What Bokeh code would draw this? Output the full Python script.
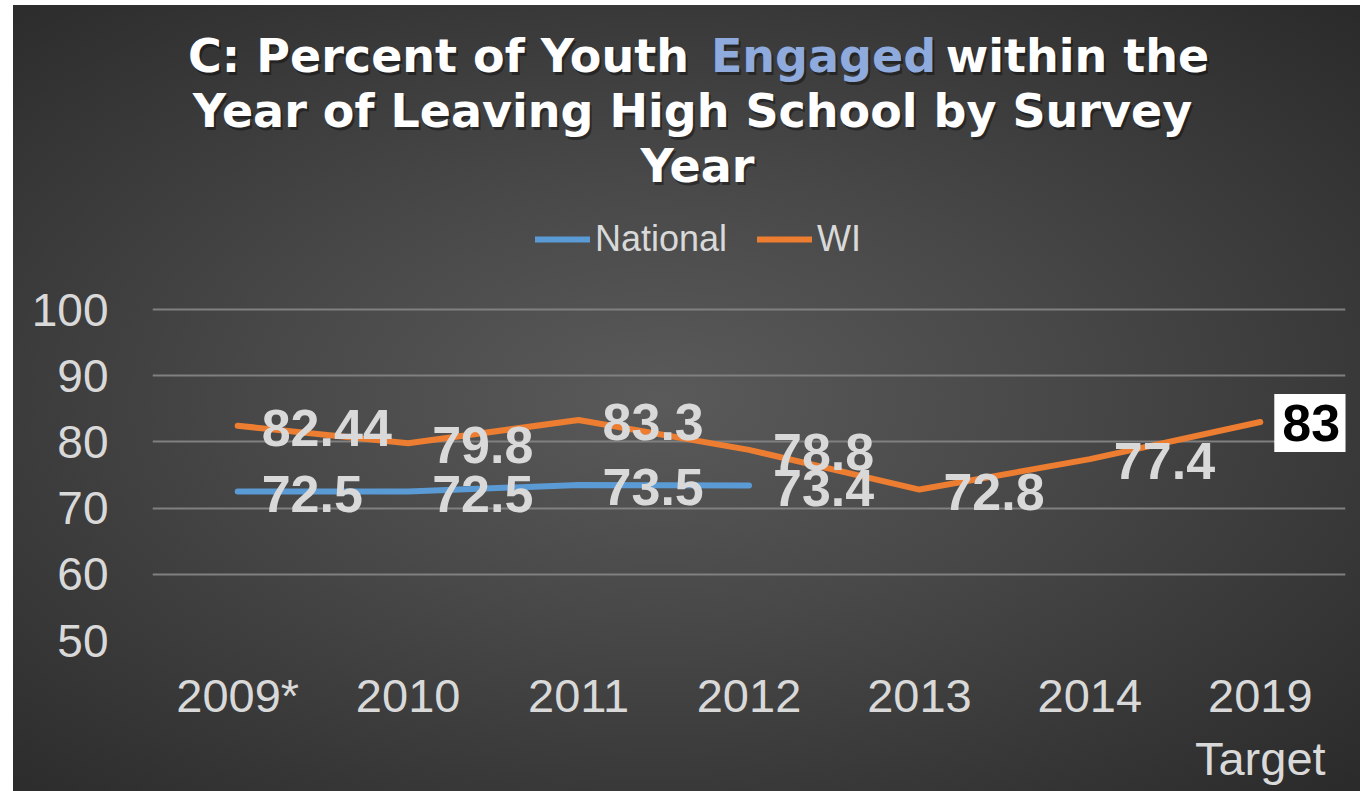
from bokeh.plotting import figure
from bokeh.models import (ColumnDataSource, LabelSet, Label, Legend, LegendItem,
                          FactorRange, Range1d, FixedTicker)
from bokeh.core.properties import value
from bokeh.embed import file_html
from bokeh.resources import INLINE

# ---- data ----
categories = ["2009*", "2010", "2011", "2012", "2013", "2014", "2019\nTarget"]
national_years = ["2009*", "2010", "2011", "2012"]
national_values = [72.5, 72.5, 73.5, 73.4]
wi_years = categories
wi_values = [82.44, 79.8, 83.3, 78.8, 72.8, 77.4, 83]
y_ticks = [50, 60, 70, 80, 90, 100]
series_names = ["National", "WI"]
title_lines = ["C:  Percent of Youth ", "Engaged", " within the",
               "Year of Leaving High School by Survey", "Year"]

BLUE = "#5b9bd5"
ORANGE = "#ed7d31"
LIGHT = "#d9d9d9"
FONT = "Liberation Sans"
TFONT = "DejaVu Sans"

# frame: x 152..1345, y from canvas top (5) to 640 (value 50); 6.62 px per unit
Y_TOP = 50 + (640 - 5) / 6.62

p = figure(width=1347, height=786, title=None,
           x_range=FactorRange(*categories), y_range=Range1d(50, Y_TOP),
           output_backend="svg", toolbar_location=None,
           min_border_left=139, min_border_right=15,
           min_border_top=0, min_border_bottom=151,
           margin=(5, 0, 0, 13),
           styles={"background": "radial-gradient(ellipse farthest-corner at 48% 50%, #5a5a5a 0%, #484848 40%, #2a2a2a 100%)"})
p.background_fill_alpha = 0
p.border_fill_alpha = 0
p.outline_line_color = None

# axes
p.xaxis.axis_line_color = None
p.yaxis.axis_line_color = None
p.xaxis.major_tick_line_color = None
p.yaxis.major_tick_line_color = None
p.xaxis.minor_tick_line_color = None
p.yaxis.minor_tick_line_color = None
p.xaxis.major_tick_out = 0
p.yaxis.major_tick_out = 0
p.yaxis.ticker = FixedTicker(ticks=y_ticks)
for ax in (p.xaxis, p.yaxis):
    ax.major_label_text_font = FONT
    ax.major_label_text_font_size = "46px"
    ax.major_label_text_color = LIGHT
p.xaxis.major_label_text_font_size = "47px"
p.xaxis.major_label_standoff = 28
p.yaxis.major_label_standoff = 44
p.xgrid.grid_line_color = None
p.ygrid.grid_line_color = "#808080"
p.ygrid.grid_line_width = 2

# lines
nat_src = ColumnDataSource(dict(x=national_years, y=national_values,
                                t=[str(v) for v in national_values]))
wi_src = ColumnDataSource(dict(x=wi_years[:-1], y=wi_values[:-1],
                               t=[str(v) for v in wi_values[:-1]]))
wi_all = ColumnDataSource(dict(x=wi_years, y=wi_values))

r_nat = p.line("x", "y", source=nat_src, line_color=BLUE, line_width=6,
               line_cap="round", line_join="round")
r_wi = p.line("x", "y", source=wi_all, line_color=ORANGE, line_width=6,
              line_cap="round", line_join="round")

# data labels
for src in (wi_src, nat_src):
    ls = LabelSet(x="x", y="y", text="t", source=src, x_offset=24, y_offset=-2,
                  text_align="left", text_baseline="middle",
                  text_font=value(FONT), text_font_style="bold",
                  text_font_size="52px", text_color=LIGHT)
    p.add_layout(ls)

# highlighted target label (synthetic categorical coordinate of the last factor)
p.add_layout(Label(x=categories.index(wi_years[-1]) + 0.5, y=wi_values[-1],
                   text=str(wi_values[-1]),
                   x_offset=14, y_offset=-1, text_align="left", text_baseline="middle",
                   text_font=FONT, text_font_style="bold", text_font_size="52px",
                   text_color="black", background_fill_color="white",
                   padding=dict(left=8, right=8, top=11, bottom=11)))

# title (positions in synthetic data coords)
def px2x(px):
    return (px - 152) / (1193 / 7)

def py2y(py):
    return 50 + (640 - py) / 6.62

title_specs = [
    (title_lines[0], 446, 55, "white"),
    (title_lines[1], 823, 55, "#8faadc"),
    (title_lines[2], 1077, 55, "white"),
    (title_lines[3], 692, 110, "white"),
    (title_lines[4], 697, 165, "white"),
]
for txt, px, py, col in title_specs:
    p.add_layout(Label(x=px2x(px), y=py2y(py), text=txt.strip(), x_offset=2, y_offset=-3,
                       text_align="center", text_baseline="middle",
                       text_font=TFONT, text_font_style="bold", text_font_size="46px",
                       text_color="black", text_alpha=0.4))
    p.add_layout(Label(x=px2x(px), y=py2y(py), text=txt.strip(),
                       text_align="center", text_baseline="middle",
                       text_font=TFONT, text_font_style="bold", text_font_size="46px",
                       text_color=col))

legend = Legend(items=[LegendItem(label=series_names[0], renderers=[r_nat]),
                       LegendItem(label=series_names[1], renderers=[r_wi])],
                orientation="horizontal", location=(383, 380),
                label_text_font=FONT, label_text_font_size="36px",
                label_text_color=LIGHT, glyph_width=55, glyph_height=30,
                label_standoff=5, spacing=30, padding=0, margin=0,
                background_fill_alpha=0, border_line_alpha=0)
p.add_layout(legend)

open("out.html", "w").write(file_html(p, INLINE))
